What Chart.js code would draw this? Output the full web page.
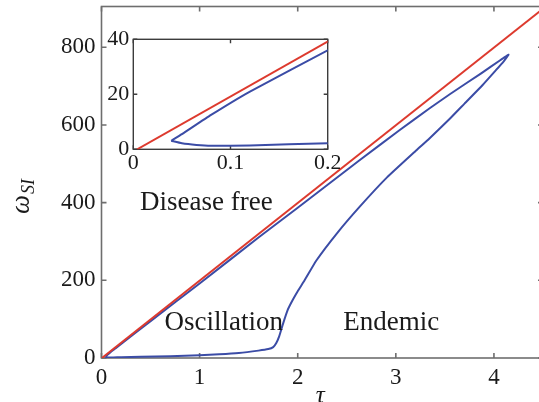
<!DOCTYPE html>
<html><head><meta charset="utf-8">
<script src="https://cdn.jsdelivr.net/npm/chart.js@4.4.0/dist/chart.umd.min.js"></script>
<style>
html,body{margin:0;padding:0;background:#fff;overflow:hidden;width:539px;height:402px;position:relative;}
#main{position:absolute;left:0;top:0;}
#inset{position:absolute;left:95px;top:25px;}
</style></head><body>
<canvas id="main" width="550" height="402"></canvas>
<canvas id="inset" width="245" height="150"></canvas>
<script>
// ---- data ----
const xTicksMain = [0, 1, 2, 3, 4];
const yTicksMain = [0, 200, 400, 600, 800];
const xTicksInset = [0, 0.1, 0.2];
const yTicksInset = [0, 20, 40];

const redX = [0.004, 4.5];
const redY = [0, 899];

// closed boundary curve (starts at small-tau tip, runs along the bottom, up the lower branch, back along the upper branch)
const blueX = [0.039, 0.05, 0.065, 0.08, 0.12, 0.2, 0.4, 0.7, 1.0, 1.2, 1.4, 1.6, 1.7, 1.75, 1.78, 1.81, 1.85, 1.90, 1.95, 2.0, 2.07, 2.19, 2.40, 2.63, 2.91, 3.21, 3.345, 3.55, 3.70, 3.885, 4.02, 4.10, 4.135, 4.148, 4.10, 4.06, 3.87, 3.55, 3.345, 3.04, 2.63, 2.0, 1.61, 1.0, 0.5, 0.2, 0.12, 0.08, 0.05, 0.039];
const blueY = [3.1, 2.2, 1.6, 1.3, 1.4, 2.2, 3, 4.5, 7, 9.5, 13, 19, 23, 28, 38, 55, 88, 125, 150, 172, 200, 251, 321, 389, 465, 535, 566, 616, 655, 703, 741, 764, 776, 781, 773, 766, 733, 679, 643, 587, 509, 387, 312, 192, 95, 36, 21, 12.5, 5.5, 3.1];

const regionNames = ["Disease free", "Oscillation", "Endemic"];
const regionTau = [1.069, 1.247, 2.953];
const regionOmega = [380, 72, 72];

// ---- style ----
const RED = '#dd3a2e';
const BLUE = '#3b4ca6';
const SERIF = '"Liberation Serif", "Times New Roman", serif';

const pts = (xs, ys) => xs.map((v, i) => ({x: v, y: ys[i]}));

function framePlugin(color, width, len) {
  return {
    id: 'frame',
    beforeDatasetsDraw(chart) {
      const {ctx, chartArea: a, scales: {x, y}} = chart;
      ctx.save();
      ctx.fillStyle = '#fff';
      ctx.fillRect(a.left, a.top, a.right - a.left, a.bottom - a.top);
      ctx.strokeStyle = color; ctx.lineWidth = width;
      ctx.strokeRect(a.left, a.top, a.right - a.left, a.bottom - a.top);
      ctx.beginPath();
      x.ticks.forEach(t => {
        const p = x.getPixelForValue(t.value);
        ctx.moveTo(p, a.bottom); ctx.lineTo(p, a.bottom - len);
        ctx.moveTo(p, a.top); ctx.lineTo(p, a.top + len);
      });
      y.ticks.forEach(t => {
        const p = y.getPixelForValue(t.value);
        ctx.moveTo(a.left, p); ctx.lineTo(a.left + len, p);
        ctx.moveTo(a.right, p); ctx.lineTo(a.right - len, p);
      });
      ctx.stroke();
      ctx.restore();
    }
  };
}

const textPlugin = {
  id: 'texts',
  afterDraw(chart) {
    const {ctx, scales: {x, y}} = chart;
    ctx.save();
    ctx.fillStyle = '#1a1a1a';
    ctx.font = '27px ' + SERIF;
    ctx.textAlign = 'center';
    ctx.textBaseline = 'alphabetic';
    regionNames.forEach((n, i) => {
      ctx.fillText(n, x.getPixelForValue(regionTau[i]), y.getPixelForValue(regionOmega[i]));
    });
    // x-axis title
    ctx.font = 'italic 25px ' + SERIF;
    ctx.fillText('τ', (x.left + x.right) / 2 - 2, 403);
    // y-axis title  ω_SI (rotated)
    ctx.translate(29, 214);
    ctx.rotate(-Math.PI / 2);
    ctx.textAlign = 'left';
    ctx.font = 'italic 27px ' + SERIF;
    ctx.fillText('ω', 0, 0);
    const w = ctx.measureText('ω').width;
    ctx.font = 'italic 18px ' + SERIF;
    ctx.fillText('SI', w + 1, 5);
    ctx.restore();
  }
};

function axisOpts(min, max, tickArr, fit, size, pad) {
  return {
    type: 'linear', min: min, max: max,
    afterBuildTicks: s => { s.ticks = tickArr.map(v => ({value: v})); },
    afterFit: s => {
      fit(s);
      s.paddingTop = 0; s.paddingBottom = 0; s.paddingLeft = 0; s.paddingRight = 0;
    },
    grid: {display: false, drawTicks: false},
    border: {display: false},
    ticks: {
      font: {family: SERIF, size: size}, color: '#1a1a1a', padding: pad,
      maxRotation: 0, autoSkip: false,
      callback: v => String(v)
    }
  };
}

new Chart(document.getElementById('main'), {
  type: 'scatter',
  data: {datasets: [
    {data: pts(redX, redY), showLine: true, borderColor: RED, borderWidth: 2, pointRadius: 0},
    {data: pts(blueX, blueY), showLine: true, borderColor: BLUE, borderWidth: 2, pointRadius: 0, tension: 0.15}
  ]},
  options: {
    responsive: false, animation: false, devicePixelRatio: 1,
    layout: {padding: {left: 0, right: 7, top: 6.5, bottom: 0}},
    plugins: {legend: {display: false}, tooltip: {enabled: false}},
    scales: {
      x: axisOpts(0, 4.5, xTicksMain, s => { s.height = 44; }, 23, 6),
      y: axisOpts(0, 905, yTicksMain, s => { s.width = 101.5; }, 23, 6)
    }
  },
  plugins: [framePlugin('#6e6e6e', 1.6, 5), textPlugin]
});

new Chart(document.getElementById('inset'), {
  type: 'scatter',
  data: {datasets: [
    {data: pts(redX, redY), showLine: true, borderColor: RED, borderWidth: 2, pointRadius: 0},
    {data: pts(blueX, blueY), showLine: true, borderColor: BLUE, borderWidth: 2, pointRadius: 0, tension: 0.15}
  ]},
  options: {
    responsive: false, animation: false, devicePixelRatio: 1,
    layout: {padding: {left: 0, right: 12.3, top: 14.3, bottom: 0}},
    plugins: {legend: {display: false}, tooltip: {enabled: false}},
    scales: {
      x: axisOpts(0, 0.2, xTicksInset, s => { s.height = 25.7; }, 22, 1),
      y: axisOpts(0, 40, yTicksInset, s => { s.width = 38.3; }, 22, 4)
    }
  },
  plugins: [framePlugin('#3c3c3c', 1.4, 4)]
});
</script>
</body></html>
